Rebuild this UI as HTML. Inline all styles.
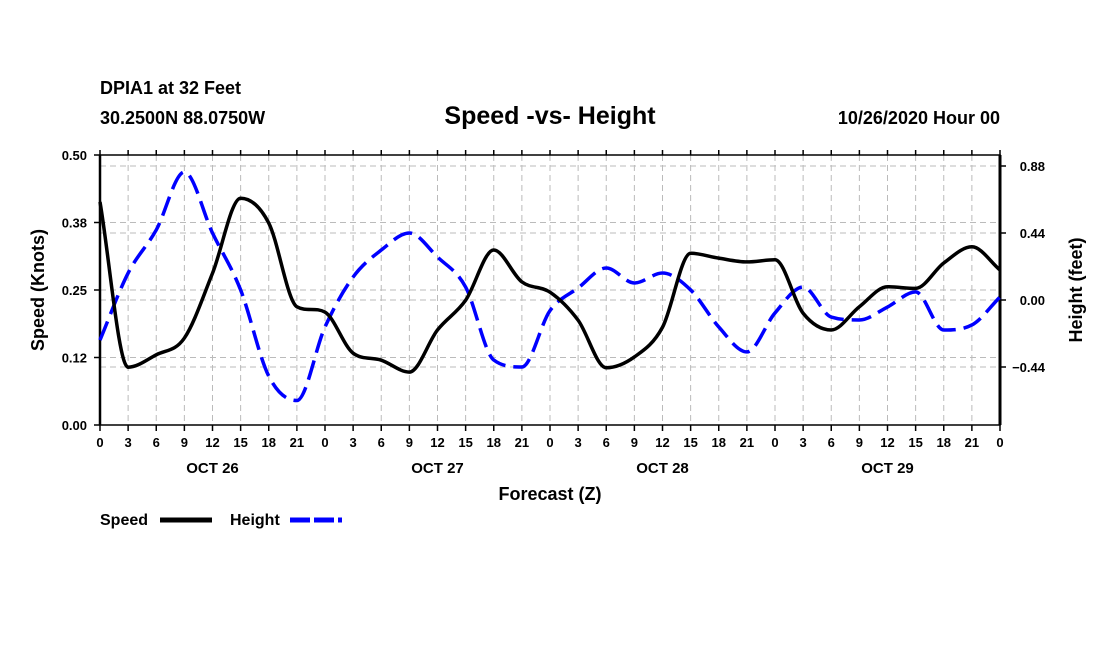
<!DOCTYPE html>
<html><head><meta charset="utf-8"><style>
body{margin:0;background:#fff;}
svg text{font-family:"Liberation Sans",sans-serif;font-weight:bold;fill:#000;}
</style></head><body>
<svg width="1100" height="650" viewBox="0 0 1100 650">
<text x="100" y="94" font-size="18">DPIA1 at 32 Feet</text>
<text x="100" y="124" font-size="18">30.2500N 88.0750W</text>
<text x="550" y="124" font-size="25" text-anchor="middle">Speed -vs- Height</text>
<text x="1000" y="124" font-size="18" text-anchor="end">10/26/2020 Hour 00</text>
<g id="grid"></g>
<g id="axes"></g>
<g id="series"></g>
<text x="550" y="500" font-size="18" text-anchor="middle">Forecast (Z)</text>
<text transform="translate(44,290) rotate(-90)" font-size="18" text-anchor="middle">Speed (Knots)</text>
<text transform="translate(1082,290) rotate(-90)" font-size="18" text-anchor="middle">Height (feet)</text>
<g>
<text x="100" y="525" font-size="16">Speed</text>
<line x1="160" y1="520" x2="212" y2="520" stroke="#000" stroke-width="5"/>
<text x="230" y="525" font-size="16">Height</text>
<line x1="290" y1="520" x2="342" y2="520" stroke="#0000ff" stroke-width="5" stroke-dasharray="20,4"/>
</g>
</svg>
<script>
const hours=[0,3,6,9,12,15,18,21,24,27,30,33,36,39,42,45,48,51,54,57,60,63,66,69,72,75,78,81,84,87,90,93,96];
const speed=[0.413,0.107,0.13,0.161,0.281,0.42,0.374,0.219,0.209,0.133,0.12,0.098,0.176,0.231,0.324,0.265,0.246,0.194,0.106,0.126,0.181,0.318,0.309,0.302,0.306,0.207,0.176,0.219,0.256,0.253,0.3,0.33,0.287];
const height=[-0.263,0.177,0.46,0.84,0.44,0.066,-0.5,-0.66,-0.177,0.151,0.328,0.44,0.282,0.085,-0.394,-0.44,-0.07,0.079,0.21,0.112,0.177,0.066,-0.177,-0.341,-0.085,0.085,-0.112,-0.131,-0.046,0.053,-0.197,-0.164,0.02];
const xTickLabels=["0","3","6","9","12","15","18","21"];
const dayLabels=["OCT 26","OCT 27","OCT 28","OCT 29"];
const leftTicks=[0,0.125,0.25,0.375,0.5];
const leftTickLabels=["0.00","0.12","0.25","0.38","0.50"];
const rightTicks=[-0.44,0,0.44,0.88];
const rightTickLabels=["\u22120.44","0.00","0.44","0.88"];
const L=100,R=1000,T=155,B=425;
const x=h=>L+(h/96)*(R-L);
const yL=v=>B-v/0.5*(B-T);
const yR=v=>300-v/0.44*67;
const NS="http://www.w3.org/2000/svg";
function mk(tag,attrs,parent,text){const e=document.createElementNS(NS,tag);for(const k in attrs)e.setAttribute(k,attrs[k]);if(text!==undefined)e.textContent=text;parent.appendChild(e);return e;}
const grid=document.getElementById('grid'),axes=document.getElementById('axes'),series=document.getElementById('series');
for(let h=3;h<96;h+=3){const g=mk('line',{x1:x(h),x2:x(h),y1:T,y2:B,stroke:'#bbb','stroke-dasharray':'6,4'},grid);

}
leftTicks.forEach((v,i)=>{if(v>0&&v<0.5){const g=mk('line',{x1:L,x2:R,y1:yL(v),y2:yL(v),stroke:'#bbb','stroke-dasharray':'6,4'},grid);

}
const t=mk('line',{x1:L-6,x2:L,y1:yL(v),y2:yL(v),stroke:'#000','stroke-width':1.5},axes);


const tl=mk('text',{x:L-13,y:yL(v)+5,'font-size':13,'text-anchor':'end'},axes,leftTickLabels[i]);

});
rightTicks.forEach((v,i)=>{const g=mk('line',{x1:L,x2:R,y1:yR(v),y2:yR(v),stroke:'#bbb','stroke-dasharray':'6,4'},grid);


const t=mk('line',{x1:R,x2:R+6,y1:yR(v),y2:yR(v),stroke:'#000','stroke-width':1.5},axes);


const tl=mk('text',{x:1045,y:yR(v)+5,'font-size':13,'text-anchor':'end'},axes,rightTickLabels[i]);

});
const fr=mk('rect',{x:L,y:T,width:R-L,height:B-T,fill:'none',stroke:'#000','stroke-width':1.5},axes);


const lax=mk('line',{x1:L,x2:L,y1:T,y2:B,stroke:'#000','stroke-width':2.5},axes);


const rax=mk('line',{x1:R,x2:R,y1:T,y2:B,stroke:'#000','stroke-width':3},axes);


for(let h=0;h<=96;h+=3){const t=mk('line',{x1:x(h),x2:x(h),y1:B,y2:B+6,stroke:'#000','stroke-width':1.5},axes);


const t2=mk('line',{x1:x(h),x2:x(h),y1:T,y2:T-5,stroke:'#000','stroke-width':1.5},axes);


const tl=mk('text',{x:x(h),y:B+22,'font-size':13,'text-anchor':'middle'},axes,xTickLabels[(h/3)%8]);

}
dayLabels.forEach((d,i)=>{const tl=mk('text',{x:x(i*24+12),y:473,'font-size':15,'text-anchor':'middle'},axes,d);

});
// monotone cubic (Fritsch-Carlson) to avoid overshoot
function smooth(pts){const n=pts.length,dx=[],sl=[],m=[];
for(let i=0;i<n-1;i++){dx[i]=pts[i+1][0]-pts[i][0];sl[i]=(pts[i+1][1]-pts[i][1])/dx[i];}
m[0]=sl[0];m[n-1]=sl[n-2];
for(let i=1;i<n-1;i++){if(sl[i-1]*sl[i]<=0)m[i]=0;else{m[i]=(sl[i-1]+sl[i])/2;const a=m[i]/sl[i-1],b=m[i]/sl[i],s=a*a+b*b;if(s>9){const t=3/Math.sqrt(s);m[i]=t*a*sl[i-1];}}}
let d=`M${pts[0][0]},${pts[0][1]}`;
for(let i=0;i<n-1;i++){const h=dx[i]/3;d+=` C${pts[i][0]+h},${pts[i][1]+m[i]*h} ${pts[i+1][0]-h},${pts[i+1][1]-m[i+1]*h} ${pts[i+1][0]},${pts[i+1][1]}`;}
return d;}
const hp=mk('path',{d:smooth(hours.map((h,i)=>[x(h),yR(height[i])])),fill:'none',stroke:'#0000ff','stroke-width':3.5,'stroke-dasharray':'20,8'},series);


const sp=mk('path',{d:smooth(hours.map((h,i)=>[x(h),yL(speed[i])])),fill:'none',stroke:'#000','stroke-width':3.5},series);


</script>
</body></html>
